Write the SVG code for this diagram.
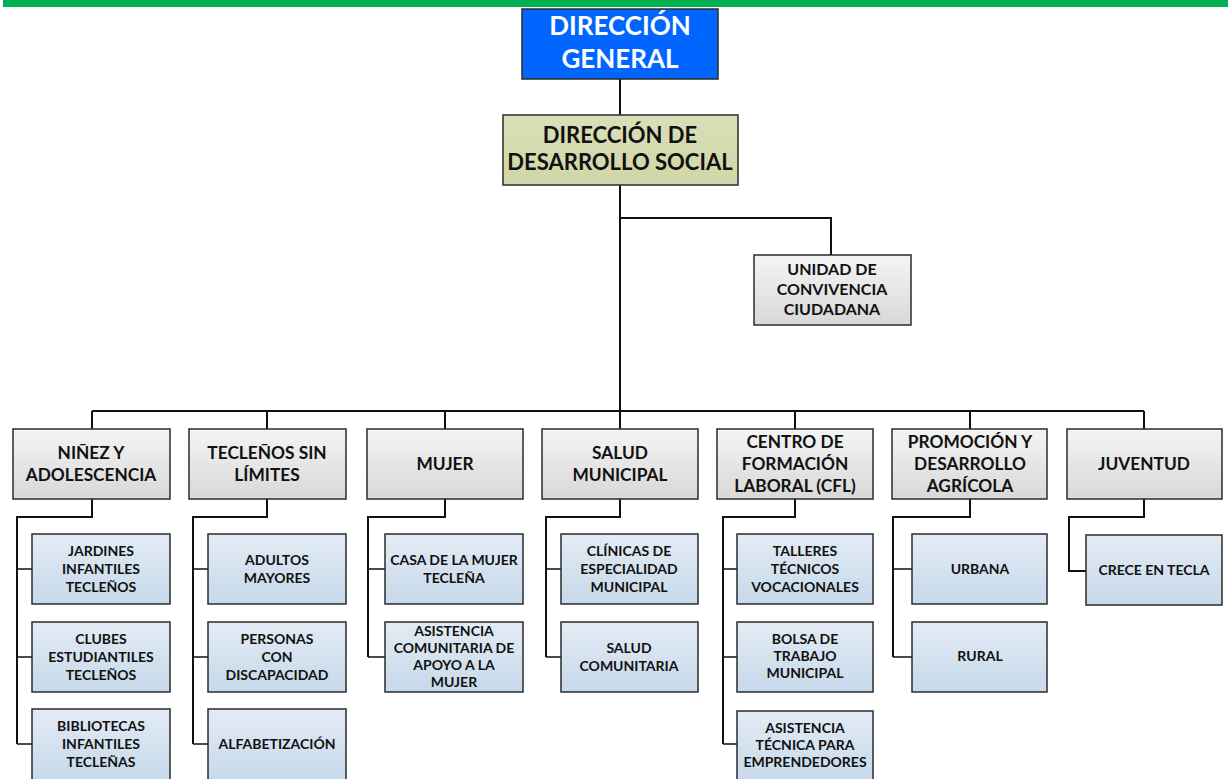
<svg xmlns="http://www.w3.org/2000/svg" width="1228" height="779" viewBox="0 0 1228 779">
<defs>
<linearGradient id="gGrey" x1="0" y1="0" x2="0" y2="1"><stop offset="0" stop-color="#f4f4f4"/><stop offset="1" stop-color="#d8d8d8"/></linearGradient>
<linearGradient id="gBlue" x1="0" y1="0" x2="0" y2="1"><stop offset="0" stop-color="#e3ebf5"/><stop offset="1" stop-color="#c6d9ea"/></linearGradient>
<linearGradient id="gOlive" x1="0" y1="0" x2="0" y2="1"><stop offset="0" stop-color="#dadfb8"/><stop offset="1" stop-color="#d0d6a6"/></linearGradient>
</defs>
<style>
text{font-family:Lato,"Liberation Sans",sans-serif;font-weight:bold;text-anchor:middle;fill:#111}
.box{stroke:#2b2b2b;stroke-width:1.5}
.l2{fill:url(#gGrey)}
.l3{fill:url(#gBlue)}
.t2{font-size:17.3px}
.t3{font-size:14px}
#connectors path{fill:none;stroke:#111;stroke-width:2}
#connectors .thin{stroke-width:1.5}
</style>
<rect x="3" y="0" width="1225" height="7" fill="#00b050"/>

<g id="connectors">
<path d="M620 79V115"/>
<path d="M620 185V411"/>
<path d="M620 218H831V255"/>
<path d="M92 411H1144"/>
<path d="M92 411V429M267 411V429M445 411V429M620 411V429M795 411V429M970 411V429M1144 411V429"/>
<path d="M92 499V517H17V744"/>
<path class="thin" d="M17 569H32M17 657H32M17 744H32"/>
<path d="M267 499V517H193V744"/>
<path class="thin" d="M193 569H208M193 657H208M193 744H208"/>
<path d="M445 499V517H368V657"/>
<path class="thin" d="M368 569H385M368 657H385"/>
<path d="M620 499V517H546V657"/>
<path class="thin" d="M546 569H561M546 657H561"/>
<path d="M795 499V517H723V744"/>
<path class="thin" d="M723 569H737M723 657H737M723 744H737"/>
<path d="M970 499V517H893V657"/>
<path class="thin" d="M893 569H912M893 657H912"/>
<path d="M1144 499V517H1069V571H1086"/>
</g>

<g id="n-dg"><rect class="box" x="522" y="9" width="196" height="70" fill="#0066ff"/>
<text x="620" y="35" font-size="26" style="fill:#fff">DIRECCIÓN</text><text x="620" y="68" font-size="26" style="fill:#fff">GENERAL</text></g>

<g id="n-dds"><rect class="box" x="503" y="115" width="235" height="70" fill="url(#gOlive)"/>
<text x="620" y="143" font-size="22">DIRECCIÓN DE</text><text x="620" y="170" font-size="22">DESARROLLO SOCIAL</text></g>

<g id="n-ucc"><rect class="box l2" x="754" y="255" width="157" height="70"/>
<text x="832" y="275" font-size="16">UNIDAD DE</text><text x="832" y="295" font-size="16">CONVIVENCIA</text><text x="832" y="315" font-size="16">CIUDADANA</text></g>

<g id="n-ninez"><rect class="box l2" x="13" y="429" width="157" height="70"/>
<text class="t2" x="91" y="459">NIÑEZ Y</text><text class="t2" x="91" y="481">ADOLESCENCIA</text></g>
<g id="n-tsl"><rect class="box l2" x="189" y="429" width="157" height="70"/>
<text class="t2" x="267" y="459">TECLEÑOS SIN</text><text class="t2" x="267" y="481">LÍMITES</text></g>
<g id="n-mujer"><rect class="box l2" x="367" y="429" width="156" height="70"/>
<text class="t2" x="445" y="470">MUJER</text></g>
<g id="n-salud"><rect class="box l2" x="542" y="429" width="156" height="70"/>
<text class="t2" x="620" y="459">SALUD</text><text class="t2" x="620" y="481">MUNICIPAL</text></g>
<g id="n-cfl"><rect class="box l2" x="717" y="429" width="156" height="70"/>
<text class="t2" x="795" y="448">CENTRO DE</text><text class="t2" x="795" y="470">FORMACIÓN</text><text class="t2" x="795" y="492">LABORAL (CFL)</text></g>
<g id="n-pda"><rect class="box l2" x="892" y="429" width="155" height="70"/>
<text class="t2" x="970" y="448">PROMOCIÓN Y</text><text class="t2" x="970" y="470">DESARROLLO</text><text class="t2" x="970" y="492">AGRÍCOLA</text></g>
<g id="n-juv"><rect class="box l2" x="1067" y="429" width="155" height="70"/>
<text class="t2" x="1144" y="470">JUVENTUD</text></g>

<g id="c-jardines"><rect class="box l3" x="32" y="534" width="138" height="70"/>
<text class="t3" x="101" y="556">JARDINES</text><text class="t3" x="101" y="574">INFANTILES</text><text class="t3" x="101" y="592">TECLEÑOS</text></g>
<g id="c-clubes"><rect class="box l3" x="32" y="622" width="138" height="70"/>
<text class="t3" x="101" y="644">CLUBES</text><text class="t3" x="101" y="662">ESTUDIANTILES</text><text class="t3" x="101" y="680">TECLEÑOS</text></g>
<g id="c-bibl"><rect class="box l3" x="32" y="709" width="138" height="72"/>
<text class="t3" x="101" y="731">BIBLIOTECAS</text><text class="t3" x="101" y="749">INFANTILES</text><text class="t3" x="101" y="767">TECLEÑAS</text></g>

<g id="c-adultos"><rect class="box l3" x="208" y="534" width="138" height="70"/>
<text class="t3" x="277" y="565">ADULTOS</text><text class="t3" x="277" y="583">MAYORES</text></g>
<g id="c-personas"><rect class="box l3" x="208" y="622" width="138" height="70"/>
<text class="t3" x="277" y="644">PERSONAS</text><text class="t3" x="277" y="662">CON</text><text class="t3" x="277" y="680">DISCAPACIDAD</text></g>
<g id="c-alfa"><rect class="box l3" x="208" y="709" width="138" height="72"/>
<text class="t3" x="277" y="749">ALFABETIZACIÓN</text></g>

<g id="c-casa"><rect class="box l3" x="385" y="534" width="138" height="70"/>
<text class="t3" x="454" y="565">CASA DE LA MUJER</text><text class="t3" x="454" y="583">TECLEÑA</text></g>
<g id="c-asist"><rect class="box l3" x="385" y="622" width="138" height="70"/>
<text class="t3" x="454" y="636">ASISTENCIA</text><text class="t3" x="454" y="653">COMUNITARIA DE</text><text class="t3" x="454" y="670">APOYO A LA</text><text class="t3" x="454" y="687">MUJER</text></g>

<g id="c-clinicas"><rect class="box l3" x="561" y="534" width="137" height="70"/>
<text class="t3" x="629" y="556">CLÍNICAS DE</text><text class="t3" x="629" y="574">ESPECIALIDAD</text><text class="t3" x="629" y="592">MUNICIPAL</text></g>
<g id="c-saludcom"><rect class="box l3" x="561" y="622" width="137" height="70"/>
<text class="t3" x="629" y="653">SALUD</text><text class="t3" x="629" y="671">COMUNITARIA</text></g>

<g id="c-talleres"><rect class="box l3" x="737" y="534" width="136" height="70"/>
<text class="t3" x="805" y="556">TALLERES</text><text class="t3" x="805" y="574">TÉCNICOS</text><text class="t3" x="805" y="592">VOCACIONALES</text></g>
<g id="c-bolsa"><rect class="box l3" x="737" y="622" width="136" height="70"/>
<text class="t3" x="805" y="644">BOLSA DE</text><text class="t3" x="805" y="661">TRABAJO</text><text class="t3" x="805" y="678">MUNICIPAL</text></g>
<g id="c-emp"><rect class="box l3" x="737" y="711" width="136" height="70"/>
<text class="t3" x="805" y="733">ASISTENCIA</text><text class="t3" x="805" y="750">TÉCNICA PARA</text><text class="t3" x="805" y="767">EMPRENDEDORES</text></g>

<g id="c-urbana"><rect class="box l3" x="912" y="534" width="135" height="70"/>
<text class="t3" x="980" y="574">URBANA</text></g>
<g id="c-rural"><rect class="box l3" x="912" y="622" width="135" height="70"/>
<text class="t3" x="980" y="661">RURAL</text></g>

<g id="c-crece"><rect class="box l3" x="1086" y="535" width="136" height="70"/>
<text class="t3" x="1154" y="575">CRECE EN TECLA</text></g>
</svg>
